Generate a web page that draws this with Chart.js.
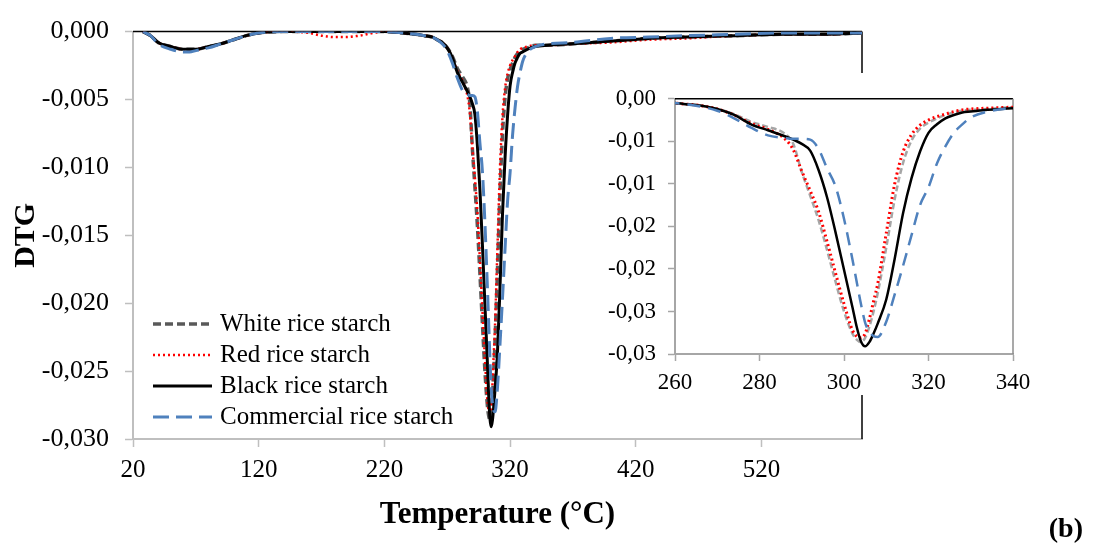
<!DOCTYPE html>
<html>
<head>
<meta charset="utf-8">
<script src="https://cdn.jsdelivr.net/npm/chart.js@4.4.0/dist/chart.umd.min.js"></script>
<style>
  html, body { margin: 0; padding: 0; background: #fff; }
  #wrap { position: relative; width: 1094px; height: 548px; overflow: hidden; }
  #main { position: absolute; left: 0; top: 0; }
  #inset { position: absolute; left: 600px; top: 73px; background: #fff; }
  #tag { position: absolute; right: 11px; top: 512px; font: bold 28px 'Liberation Serif', serif; color: #000; }
</style>
</head>
<body>
<div id="wrap">
  <canvas id="main" width="1094" height="548"></canvas>
  <canvas id="inset" width="450" height="322"></canvas>
  <div id="tag">(b)</div>
</div>
<script>
// temperature (°C) shared by all four curves
const temps = [28, 34, 40, 50, 60, 65, 70, 80, 90, 100, 110, 120, 140, 160, 170, 180, 190, 200, 220, 235,
  245, 252, 258, 262, 266, 270, 274, 278, 282, 286, 288, 290, 292, 294, 296, 298, 300, 302, 303, 304,
  305, 306, 307, 308, 310, 312, 314, 316, 318, 320, 322, 324, 326, 328, 330, 334, 340, 350, 370, 400,
  430, 460, 500, 540, 570, 600];

const whiteDTG = [0, -0.0003, -0.0008, -0.0011, -0.0013, -0.0013, -0.0013, -0.0011, -0.0009, -0.0006, -0.0003, -0.0001, 0, 0, 0, 0, 0, 0, 0, -0.0001,
  -0.0002, -0.0003, -0.0004, -0.0006, -0.0008, -0.0012, -0.0018, -0.0027, -0.0033, -0.0041, -0.0053, -0.0086, -0.0114, -0.0143, -0.0178, -0.0215, -0.0250, -0.0276, -0.0283, -0.0286,
  -0.0281, -0.0268, -0.0250, -0.0228, -0.0175, -0.0118, -0.0075, -0.0049, -0.0035, -0.0028, -0.0023, -0.0019, -0.0016, -0.0014, -0.0013, -0.0012, -0.0010, -0.0010, -0.0009, -0.0007,
  -0.0005, -0.0004, -0.0003, -0.0002, -0.0002, -0.0001];

const redDTG = [0, -0.0003, -0.0008, -0.0011, -0.0013, -0.0013, -0.0013, -0.0011, -0.0009, -0.0006, -0.0003, -0.0001, 0, -0.0001, -0.0003, -0.0004, -0.0004, -0.0003, 0, -0.0001,
  -0.0002, -0.0003, -0.0004, -0.0006, -0.0008, -0.0012, -0.0019, -0.0029, -0.0036, -0.0047, -0.0060, -0.0085, -0.0108, -0.0133, -0.0168, -0.0205, -0.0241, -0.0272, -0.0279, -0.0281,
  -0.0276, -0.0259, -0.0238, -0.0217, -0.0158, -0.0100, -0.0062, -0.0042, -0.0031, -0.0025, -0.0021, -0.0018, -0.0015, -0.0013, -0.0012, -0.0011, -0.0010, -0.0010, -0.0009, -0.0008,
  -0.0006, -0.0005, -0.0003, -0.0002, -0.0002, -0.0001];

const blackDTG = [0, -0.0003, -0.0008, -0.0011, -0.0013, -0.0013, -0.0013, -0.0011, -0.0009, -0.0006, -0.0003, -0.0001, 0, 0, 0, 0, 0, 0, 0, -0.0001,
  -0.0002, -0.0003, -0.0004, -0.0006, -0.0008, -0.0012, -0.0019, -0.0030, -0.0037, -0.0044, -0.0048, -0.0053, -0.0061, -0.0084, -0.0116, -0.0157, -0.0201, -0.0245, -0.0268, -0.0285,
  -0.0291, -0.0286, -0.0276, -0.0264, -0.0236, -0.0188, -0.0134, -0.0093, -0.0062, -0.0040, -0.0030, -0.0023, -0.0019, -0.0016, -0.0015, -0.0013, -0.0011, -0.0010, -0.0009, -0.0007,
  -0.0005, -0.0004, -0.0003, -0.0002, -0.0002, -0.0001];

const commercialDTG = [0, -0.0003, -0.0009, -0.0013, -0.0015, -0.0015, -0.0014, -0.0012, -0.0009, -0.0006, -0.0003, -0.0001, 0, 0, 0, 0, 0, 0, 0, -0.0001,
  -0.0002, -0.0003, -0.0004, -0.0006, -0.0009, -0.0014, -0.0023, -0.0034, -0.0043, -0.0046, -0.0047, -0.0047, -0.0048, -0.0059, -0.0082, -0.0103, -0.0141, -0.0189, -0.0215, -0.0241,
  -0.0263, -0.0274, -0.0279, -0.0280, -0.0262, -0.0230, -0.0196, -0.0160, -0.0125, -0.0104, -0.0076, -0.0056, -0.0040, -0.0030, -0.0022, -0.0015, -0.0011, -0.0009, -0.0008, -0.0005,
  -0.0004, -0.0003, -0.0002, -0.0001, -0.0001, -0.0001];

const seriesNames = ['White rice starch', 'Red rice starch', 'Black rice starch', 'Commercial rice starch'];

const mainXTicks = [20, 120, 220, 320, 420, 520];
const mainYTicks = [0, -0.005, -0.010, -0.015, -0.020, -0.025, -0.030];
const mainYLabels = ['0,000', '-0,005', '-0,010', '-0,015', '-0,020', '-0,025', '-0,030'];
const insetXTicks = [260, 280, 300, 320, 340];
const insetYTicks = [0, -0.005, -0.010, -0.015, -0.020, -0.025, -0.030];
const insetYLabels = ['0,00', '-0,01', '-0,01', '-0,02', '-0,02', '-0,03', '-0,03'];

Chart.defaults.font.family = "'Liberation Serif', 'Times New Roman', serif";
Chart.defaults.color = '#000';

function points(vals) {
  return temps.map((t, i) => ({ x: t, y: vals[i] }));
}

function labelFor(ticks, labels) {
  return v => {
    const i = ticks.findIndex(t => Math.abs(t - v) < 1e-9);
    return i < 0 ? '' : labels[i];
  };
}

function buildSets(inset) {
  return [
    { label: seriesNames[0], data: points(whiteDTG), borderColor: inset ? '#a6a6a6' : '#595959',
      borderWidth: inset ? 2.5 : 3.5, borderDash: inset ? [6, 3] : [8, 4], order: 4 },
    { label: seriesNames[1], data: points(redDTG), borderColor: '#ff0000',
      borderWidth: inset ? 3 : 2.5, borderDash: [2, 3], order: 3 },
    { label: seriesNames[2], data: points(blackDTG), borderColor: '#000000',
      borderWidth: inset ? 2.5 : 3, borderDash: [], order: 2 },
    { label: seriesNames[3], data: points(commercialDTG), borderColor: '#4f81bd',
      borderWidth: inset ? 2.5 : 3, borderDash: inset ? [13, 8] : [16, 7], order: 1 }
  ].map(d => Object.assign(d, { pointRadius: 0, fill: false, cubicInterpolationMode: 'monotone' }));
}

// black line along y = 0 and the right edge of the plot
const frameLines = {
  id: 'frameLines',
  beforeDatasetsDraw(chart, args, opts) {
    const { ctx, chartArea: a } = chart;
    ctx.save();
    ctx.lineWidth = 1.5;
    ctx.strokeStyle = '#000';
    ctx.beginPath(); ctx.moveTo(a.left, a.top); ctx.lineTo(a.right, a.top); ctx.stroke();
    ctx.strokeStyle = opts.rightColor || '#000';
    ctx.beginPath(); ctx.moveTo(a.right, a.top); ctx.lineTo(a.right, a.bottom); ctx.stroke();
    ctx.restore();
  }
};

// legend inside the plot, bottom left
const insideLegend = {
  id: 'insideLegend',
  afterDatasetsDraw(chart) {
    const { ctx, chartArea } = chart;
    const x0 = chartArea.left + 20, len = 59, rowH = 31;
    let y = chartArea.bottom - 115;
    ctx.save();
    ctx.font = "25px 'Liberation Serif', serif";
    ctx.textBaseline = 'middle';
    ctx.fillStyle = '#000';
    chart.data.datasets.forEach(ds => {
      ctx.strokeStyle = ds.borderColor;
      ctx.lineWidth = ds.borderWidth;
      ctx.setLineDash(ds.borderDash);
      ctx.beginPath(); ctx.moveTo(x0, y); ctx.lineTo(x0 + len, y); ctx.stroke();
      ctx.setLineDash([]);
      ctx.fillText(ds.label, x0 + len + 8, y);
      y += rowH;
    });
    ctx.restore();
  }
};

const axisGrey = '#bfbfbf';

new Chart(document.getElementById('main'), {
  type: 'line',
  data: { datasets: buildSets(false) },
  plugins: [frameLines, insideLegend],
  options: {
    responsive: false,
    animation: false,
    events: [],
    layout: { padding: { top: 21, right: 232, left: 0, bottom: 0 } },
    plugins: { legend: { display: false }, tooltip: { enabled: false }, frameLines: { rightColor: '#000' } },
    scales: {
      x: {
        type: 'linear', min: 20, max: 600,
        afterBuildTicks: s => { s.ticks = mainXTicks.map(v => ({ value: v })); },
        afterFit: s => { s.height = 109; },
        ticks: { font: { size: 25 }, padding: 8, maxRotation: 0, autoSkip: false },
        grid: { drawOnChartArea: false, tickLength: 8, color: axisGrey, tickWidth: 1.5 },
        border: { color: axisGrey, width: 2 },
        title: { display: true, text: 'Temperature (°C)', font: { size: 31, weight: 'bold' }, padding: { top: 0, bottom: 14 } }
      },
      y: {
        min: -0.030, max: 0,
        afterBuildTicks: s => { s.ticks = mainYTicks.map(v => ({ value: v })); },
        afterFit: s => { s.width = 133; },
        ticks: { font: { size: 26 }, padding: 16, callback: labelFor(mainYTicks, mainYLabels) },
        grid: { drawOnChartArea: false, tickLength: 8, color: axisGrey, tickWidth: 1.5 },
        border: { color: axisGrey, width: 2 },
        title: { display: true, text: 'DTG', font: { size: 30, weight: 'bold' }, padding: { top: 8, bottom: 0 } }
      }
    }
  }
});

new Chart(document.getElementById('inset'), {
  type: 'line',
  data: { datasets: buildSets(true) },
  plugins: [frameLines],
  options: {
    responsive: false,
    animation: false,
    events: [],
    layout: { padding: { top: 15, right: 37, left: 0, bottom: 0 } },
    plugins: { legend: { display: false }, tooltip: { enabled: false }, frameLines: { rightColor: '#8c8c8c' } },
    scales: {
      x: {
        type: 'linear', min: 260, max: 340,
        afterBuildTicks: s => { s.ticks = insetXTicks.map(v => ({ value: v })); },
        afterFit: s => { s.height = 41; },
        ticks: { font: { size: 23 }, padding: 8, maxRotation: 0, autoSkip: false },
        grid: { drawOnChartArea: false, tickLength: 7, color: '#a6a6a6', tickWidth: 1.5 },
        border: { color: '#a6a6a6', width: 2 }
      },
      y: {
        min: -0.030, max: 0,
        afterBuildTicks: s => { s.ticks = insetYTicks.map(v => ({ value: v })); },
        afterFit: s => { s.width = 75; },
        ticks: { font: { size: 23 }, padding: 12, callback: labelFor(insetYTicks, insetYLabels) },
        grid: { drawOnChartArea: false, tickLength: 7, color: '#a6a6a6', tickWidth: 1.5 },
        border: { color: '#a6a6a6', width: 2 }
      }
    }
  }
});
</script>
</body>
</html>
